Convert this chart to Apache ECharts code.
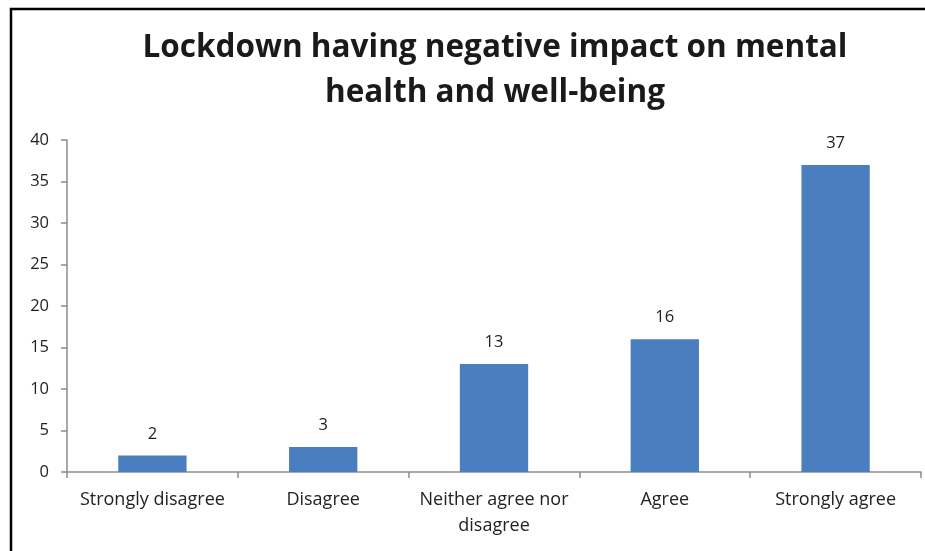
<!DOCTYPE html>
<html>
<head>
<meta charset="utf-8">
<style>
  html, body { margin: 0; padding: 0; background: #fff; }
  #chart { width: 925px; height: 551px; }
</style>
<script src="https://cdn.jsdelivr.net/npm/echarts@6/dist/echarts.min.js"></script>
</head>
<body>
<div id="chart"></div>
<script>
// Survey responses: lockdown having a negative impact on mental health
const categories = ['Strongly disagree', 'Disagree', 'Neither agree nor\ndisagree', 'Agree', 'Strongly agree'];
const responses = [2, 3, 13, 16, 37];
const yTicks = { min: 0, max: 40, interval: 5 };

const chart = echarts.init(document.getElementById('chart'));
const textFont = '"Open Sans", Lato, sans-serif';

chart.setOption({
  animation: false,
  title: {
    text: 'Lockdown having negative impact on mental\nhealth and well-being',
    left: 490,
    textAlign: 'center',
    top: 21,
    textStyle: {
      fontFamily: textFont,
      fontWeight: 'bold',
      fontSize: 31.5,
      lineHeight: 45,
      color: '#1a1a1a'
    }
  },
  graphic: [{
    type: 'rect',
    shape: { x: 11, y: 9, width: 1000, height: 1000 },
    style: { fill: 'none', stroke: '#000', lineWidth: 2.5 },
    silent: true
  }],
  grid: { left: 67, right: 4, top: 140, bottom: 79 },
  xAxis: {
    type: 'category',
    data: categories,
    axisLine: { lineStyle: { color: '#8c8c8c', width: 1.5 } },
    axisTick: { show: true, alignWithLabel: false, length: 6, lineStyle: { color: '#8c8c8c', width: 1.5 } },
    axisLabel: {
      interval: 0,
      margin: 15,
      fontFamily: textFont,
      fontSize: 18,
      lineHeight: 26,
      color: '#222'
    }
  },
  yAxis: {
    type: 'value',
    min: yTicks.min,
    max: yTicks.max,
    interval: yTicks.interval,
    splitLine: { show: false },
    axisLine: { show: true, lineStyle: { color: '#8c8c8c', width: 1.5 } },
    axisTick: { show: true, length: 6, lineStyle: { color: '#8c8c8c', width: 1.5 } },
    axisLabel: {
      margin: 18,
      fontFamily: textFont,
      fontSize: 16.5,
      color: '#222'
    }
  },
  series: [{
    type: 'bar',
    data: responses,
    barWidth: '40%',
    itemStyle: { color: '#4A7EBF' },
    label: {
      show: true,
      position: 'top',
      distance: 13,
      fontFamily: textFont,
      fontSize: 16.5,
      color: '#222'
    }
  }]
});
</script>
</body>
</html>
